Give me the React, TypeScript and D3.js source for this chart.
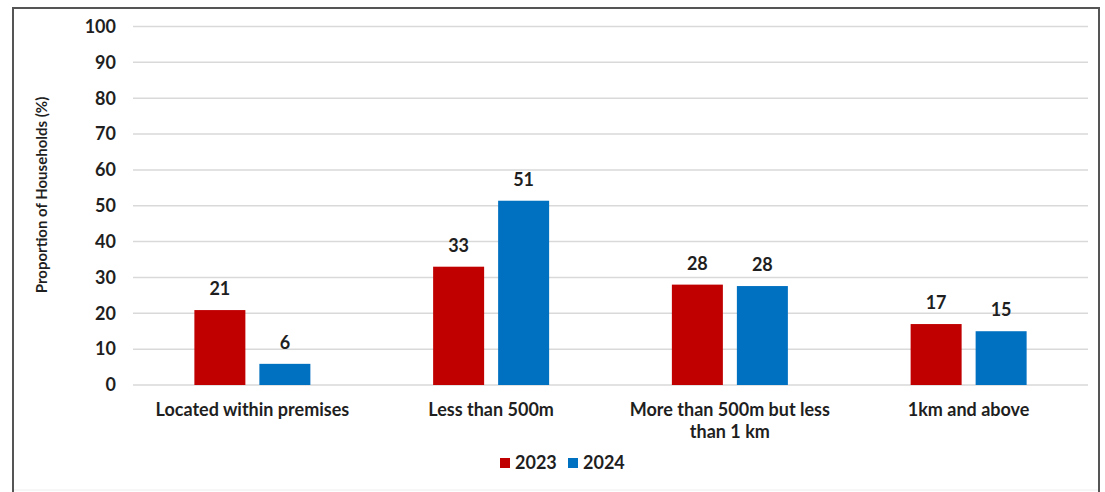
import React from "react";
import * as d3 from "d3";

const categories: string[][] = [
  ["Located within premises"],
  ["Less than 500m"],
  ["More than 500m but less", "than 1 km"],
  ["1km and above"],
];
const series = ["2023", "2024"];
const values2023 = [20.9, 33, 28, 17];
const values2024 = [5.9, 51.4, 27.6, 15];
const yTicks = [0, 10, 20, 30, 40, 50, 60, 70, 80, 90, 100];
const colors = ["#C00000", "#0070C0"];

const W = 1105;
const H = 492;
const FONT = "Lato, 'Liberation Sans', Arial, sans-serif";
const TEXT = "#1f1f1f";
const FS = 18;

export default function App() {
  const x = d3
    .scaleBand<number>()
    .domain(categories.map((_, i) => i))
    .range([133, 1088]);
  const y = d3.scaleLinear().domain([0, 100]).range([385, 26.5]);
  const barW = 51;
  const gap = 14;
  const groups = [values2023, values2024];

  return (
    <svg
      width={W}
      height={H}
      style={{ position: "absolute", left: 0, top: 0, background: "#fff" }}
      fontFamily={FONT}
    >
      <rect x={0} y={0} width={W} height={H} fill="#fff" />
      {/* frame */}
      <path d="M13,492 V8 H1099 V492" fill="none" stroke="#555" strokeWidth={2} />
      <line x1={14} x2={1098} y1={490} y2={490} stroke="#eee" strokeWidth={1} />
      {/* gridlines */}
      {yTicks.map((t) => (
        <g key={t}>
          <line x1={133} x2={1088} y1={y(t)} y2={y(t)} stroke="#D9D9D9" strokeWidth={1.5} />
          <text
            x={116}
            y={y(t)}
            dy="0.35em"
            textAnchor="end"
            fontSize={FS}
            fontWeight="bold"
            fill={TEXT}
          >
            {t}
          </text>
        </g>
      ))}
      {/* bars */}
      {categories.map((_, i) => {
        const cx = (x(i) as number) + x.bandwidth() / 2;
        return groups.map((vals, s) => {
          const bx = cx + (s === 0 ? -gap / 2 - barW : gap / 2);
          const v = vals[i];
          return (
            <g key={`${i}-${s}`}>
              <rect
                x={bx}
                y={y(v)}
                width={barW}
                height={y(0) - y(v)}
                fill={colors[s]}
              />
              <text
                x={bx + barW / 2}
                y={y(v) - 15}
                textAnchor="middle"
                fontSize={FS}
                fontWeight="bold"
                fill={TEXT}
              >
                {Math.round(v)}
              </text>
            </g>
          );
        });
      })}
      {/* category labels */}
      {categories.map((lines, i) => {
        const cx = (x(i) as number) + x.bandwidth() / 2;
        return (
          <text
            key={i}
            x={cx}
            y={416}
            textAnchor="middle"
            fontSize={FS}
            fontWeight="bold"
            fill={TEXT}
          >
            {lines.map((l, j) => (
              <tspan key={j} x={cx} dy={j === 0 ? 0 : 22}>
                {l}
              </tspan>
            ))}
          </text>
        );
      })}
      {/* y-axis title */}
      <text
        transform="translate(47,195) rotate(-90)"
        textAnchor="middle"
        fontSize={15}
        fontWeight="bold"
        fill={TEXT}
      >
        Proportion of Households (%)
      </text>
      {/* legend */}
      {series.map((s, i) => {
        const lx = 500 + i * 68;
        return (
          <g key={s}>
            <rect x={lx} y={458} width={10} height={10} fill={colors[i]} />
            <text x={lx + 15} y={463} dy="0.35em" fontSize={FS} fontWeight="bold" fill={TEXT}>
              {s}
            </text>
          </g>
        );
      })}
    </svg>
  );
}
